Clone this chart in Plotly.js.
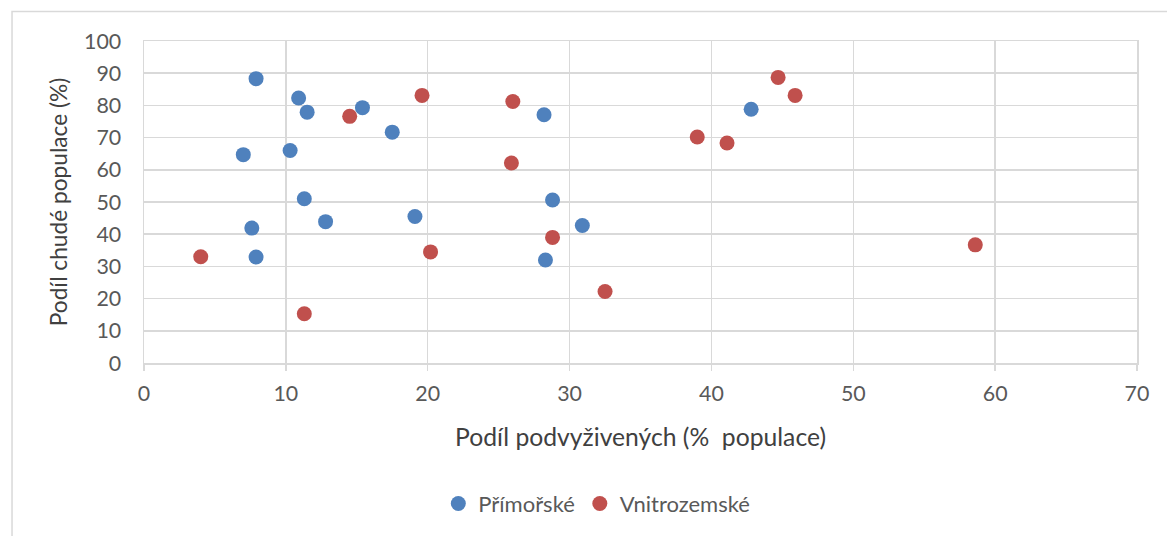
<!DOCTYPE html>
<html>
<head>
<meta charset="utf-8">
<script src="https://cdn.plot.ly/plotly-3.0.1.min.js"></script>
<style>html,body{margin:0;padding:0;background:#fff;}#chart{width:1167px;height:536px;}</style>
</head>
<body>
<div id="chart"></div>
<script>
// Přímořské (coastal)
const coastalX = [7.9, 10.9, 11.5, 15.4, 17.5, 7.0, 10.3, 11.3, 12.8, 7.6, 7.9, 28.2, 42.8, 28.8, 19.1, 30.9, 28.3];
const coastalY = [88.3, 82.3, 77.9, 79.3, 71.7, 64.7, 66.0, 51.0, 43.9, 41.9, 32.9, 77.1, 78.8, 50.6, 45.5, 42.7, 32.0];
// Vnitrozemské (inland)
const inlandX = [14.5, 4.0, 11.3, 19.6, 26.0, 39.0, 41.1, 44.7, 45.9, 25.9, 28.8, 20.2, 32.5, 58.6];
const inlandY = [76.6, 33.0, 15.3, 83.1, 81.2, 70.2, 68.3, 88.7, 83.1, 62.1, 39.0, 34.5, 22.2, 36.7];

const seriesNames = ['Přímořské', 'Vnitrozemské'];
const xTitle = 'Podíl podvyživených (%  populace)';
const yTitle = 'Podíl chudé populace (%)';

const FONT = 'Lato, "Liberation Sans", sans-serif';

const traces = [
  {x: coastalX, y: coastalY, name: seriesNames[0], type: 'scatter', mode: 'markers',
   marker: {color: '#4F81BD', size: 15, line: {width: 0}}},
  {x: inlandX, y: inlandY, name: seriesNames[1], type: 'scatter', mode: 'markers',
   marker: {color: '#C0504D', size: 15, line: {width: 0}}}
];

const layout = {
  width: 1167, height: 536,
  paper_bgcolor: '#fff', plot_bgcolor: '#fff',
  margin: {l: 143.5, r: 30.3, t: 41, b: 172.7, pad: 0},
  font: {family: FONT, color: '#595959', size: 21},
  showlegend: true,
  legend: {orientation: 'h', x: 0.456, xanchor: 'center', y: -0.437, yanchor: 'middle',
           font: {size: 22, color: '#595959'}, itemwidth: 30, tracegroupgap: 0},
  xaxis: {
    range: [0, 70], dtick: 10, tick0: 0,
    showgrid: true, gridcolor: '#D9D9D9', gridwidth: 1.5,
    zeroline: false, showline: true, linecolor: '#D9D9D9', linewidth: 1.5, mirror: true,
    ticks: 'outside', ticklen: 6, tickcolor: '#D9D9D9', tickwidth: 1.5,
    ticklabelstandoff: 5,
    tickfont: {size: 21.4, color: '#595959'},
    title: {text: xTitle, font: {size: 24.7, color: '#404040'}, standoff: 23}
  },
  yaxis: {
    range: [0, 100], dtick: 10, tick0: 0,
    showgrid: true, gridcolor: '#D9D9D9', gridwidth: 1.5,
    zeroline: false, showline: true, linecolor: '#D9D9D9', linewidth: 1.5, mirror: true,
    ticks: '', ticklabelstandoff: 17,
    tickfont: {size: 21.4, color: '#595959'},
    title: {text: yTitle, font: {size: 22.7, color: '#404040'}, standoff: 10}
  },
  shapes: [{
    type: 'rect', xref: 'paper', yref: 'paper',
    x0: -0.1329, x1: 1.05, y0: -0.6, y1: 1.0915,
    line: {color: '#D9D9D9', width: 1.5}, fillcolor: 'rgba(0,0,0,0)', layer: 'below'
  }]
};

Plotly.newPlot('chart', traces, layout, {displayModeBar: false, staticPlot: true});
</script>
</body>
</html>
